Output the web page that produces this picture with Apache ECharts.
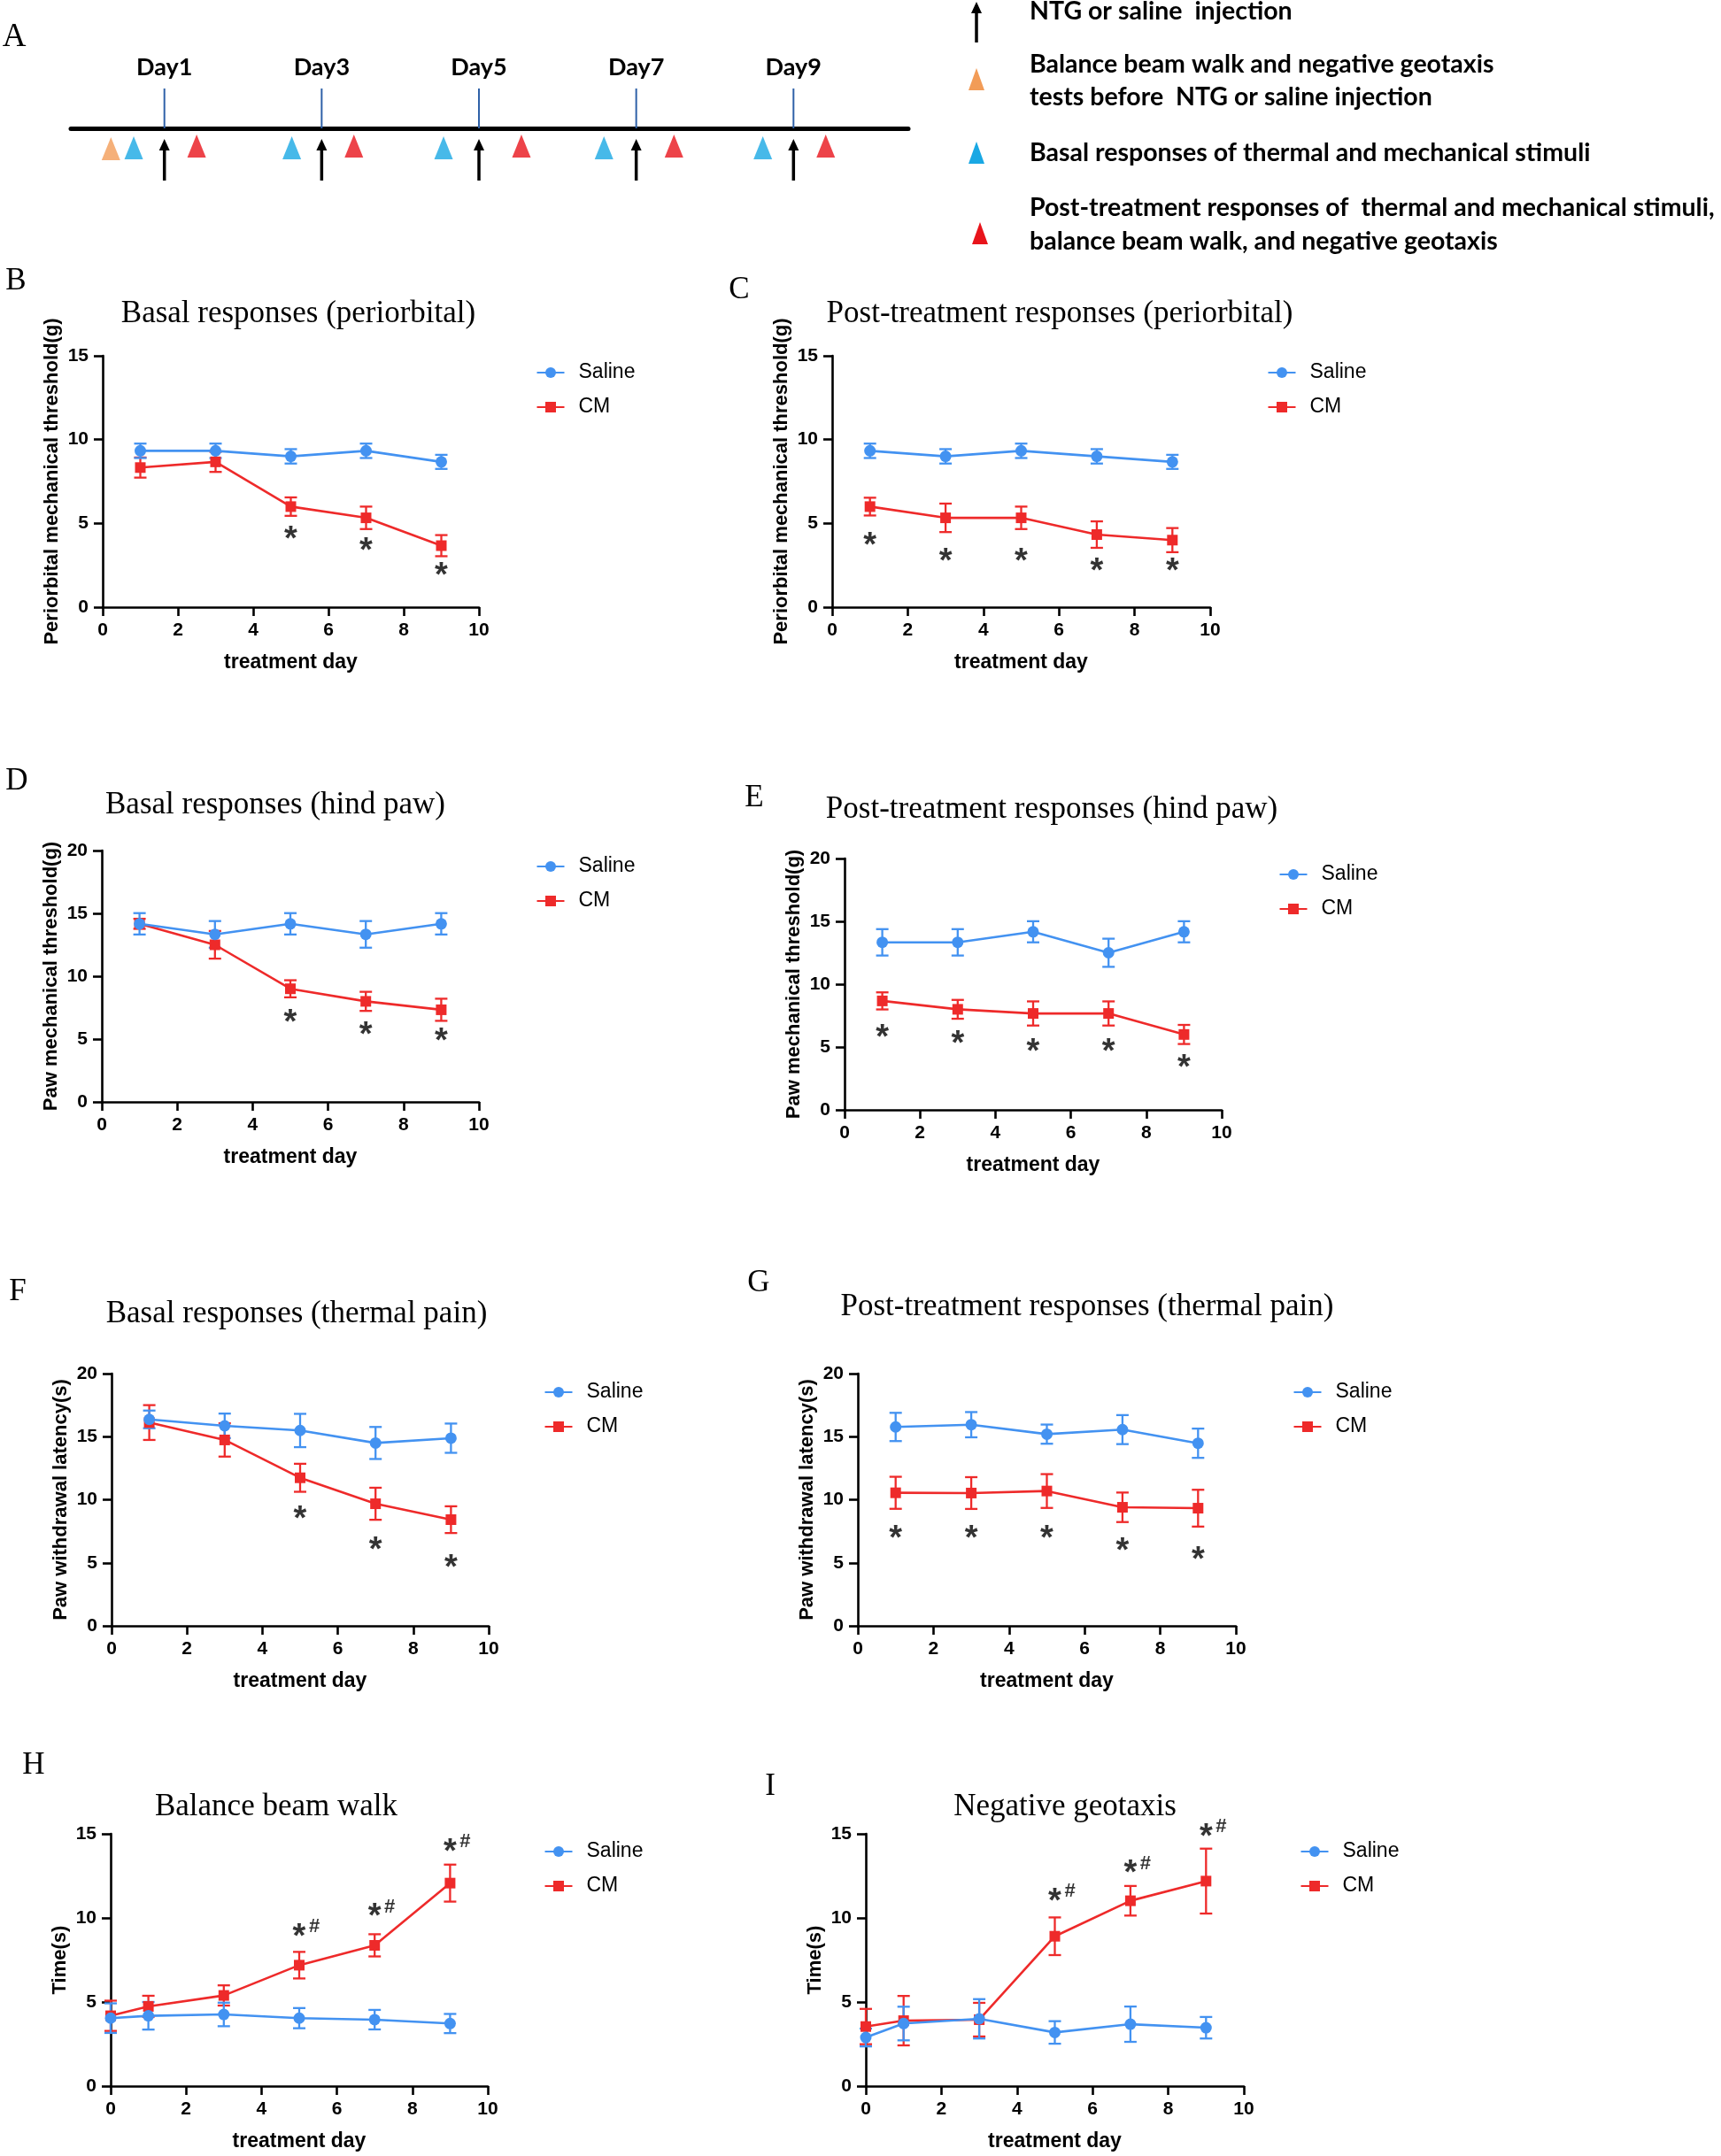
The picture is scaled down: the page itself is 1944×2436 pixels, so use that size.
<!DOCTYPE html>
<html><head><meta charset="utf-8">
<script src="https://cdn.jsdelivr.net/npm/echarts@6/dist/echarts.min.js"></script>
<style>html,body{margin:0;padding:0;background:#fff}#c{width:1944px;height:2436px}</style>
</head><body><div id="c"></div>
<script>
// ---------------- data ----------------
// Panel A (timeline schematic)
const injectionDays = [1, 3, 5, 7, 9];
const dayLabels = ['Day1', 'Day3', 'Day5', 'Day7', 'Day9'];
const basalTestDays = [0.61, 2.62, 4.55, 6.59, 8.61];
const postTestDays = [1.41, 3.41, 5.54, 7.48, 9.41];
const behaviorPreTestDays = [0.32];
const legendTextsA = [
  'NTG or saline  injection',
  'Balance beam walk and negative geotaxis',
  'tests before  NTG or saline injection',
  'Basal responses of thermal and mechanical stimuli',
  'Post-treatment responses of  thermal and mechanical stimuli,',
  'balance beam walk, and negative geotaxis'
];

const days5 = [1, 3, 5, 7, 9];
const days6 = [0, 1, 3, 5, 7, 9];

// B
const salineB = [9.33, 9.33, 9.0, 9.33, 8.67];
const salineErrB = [0.43, 0.43, 0.43, 0.43, 0.42];
const cmB = [8.33, 8.67, 6.0, 5.33, 3.67];
const cmErrB = [0.6, 0.6, 0.55, 0.67, 0.63];
const sigB = [[5, 4.46], [7, 3.80], [9, 2.28]];
// C
const salineC = [9.33, 9.0, 9.33, 9.0, 8.67];
const salineErrC = [0.43, 0.43, 0.43, 0.43, 0.42];
const cmC = [6.0, 5.33, 5.33, 4.33, 4.0];
const cmErrC = [0.53, 0.85, 0.67, 0.79, 0.72];
const sigC = [[1, 4.11], [3, 3.15], [5, 3.15], [7, 2.54], [9, 2.54]];
// D
const salineD = [14.17, 13.33, 14.17, 13.33, 14.17];
const salineErrD = [0.85, 1.06, 0.85, 1.06, 0.85];
const cmD = [14.17, 12.5, 9.0, 8.0, 7.33];
const cmErrD = [0.4, 1.1, 0.68, 0.76, 0.88];
const sigD = [[5, 6.85], [7, 5.89], [9, 5.38]];
// E
const salineE = [13.33, 13.33, 14.17, 12.5, 14.17];
const salineErrE = [1.05, 1.05, 0.84, 1.12, 0.84];
const cmE = [8.67, 8.0, 7.67, 7.67, 6.0];
const cmErrE = [0.68, 0.75, 0.96, 0.96, 0.76];
const sigE = [[1, 6.32], [3, 5.78], [5, 5.19], [7, 5.19], [9, 3.9]];
// F
const salineF = [16.37, 15.86, 15.49, 14.50, 14.88];
const salineErrF = [0.7, 0.97, 1.32, 1.27, 1.16];
const cmF = [16.12, 14.74, 11.74, 9.68, 8.42];
const cmErrF = [1.38, 1.32, 1.11, 1.27, 1.06];
const sigF = [[5, 9.05], [7, 6.55], [9, 5.15]];
// G
const salineG = [15.77, 15.95, 15.20, 15.56, 14.48];
const salineErrG = [1.12, 1.0, 0.76, 1.15, 1.16];
const cmG = [10.55, 10.53, 10.69, 9.40, 9.33];
const cmErrG = [1.27, 1.26, 1.34, 1.17, 1.46];
const sigG = [[1, 7.49], [3, 7.49], [5, 7.49], [7, 6.48], [9, 5.78]];
// H
const salineH = [4.04, 4.18, 4.26, 4.04, 3.95, 3.72];
const salineErrH = [0.88, 0.82, 0.7, 0.6, 0.58, 0.57];
const cmH = [4.18, 4.74, 5.39, 7.19, 8.37, 12.07];
const cmErrH = [0.9, 0.63, 0.6, 0.79, 0.66, 1.1];
const sigH = [[5, 9.3], [7, 10.5], [9, 14.35]];
// I
const salineI = [2.89, 3.72, 4.0, 3.19, 3.68, 3.47];
const salineErrI = [0.53, 1.0, 1.17, 0.67, 1.05, 0.64];
const cmI = [3.54, 3.89, 3.95, 8.91, 11.02, 12.19];
const cmErrI = [1.05, 1.47, 1.0, 1.12, 0.88, 1.93];
const sigI = [[5, 11.4], [7, 13.07], [9, 15.26]];

const panels = [
  {key:'B', title:'Basal responses (periorbital)', yName:'Periorbital mechanical threshold(g)', yMax:15, days:days5, saline:salineB, salineErr:salineErrB, cm:cmB, cmErr:cmErrB, sig:sigB, hash:false},
  {key:'C', title:'Post-treatment responses (periorbital)', yName:'Periorbital mechanical threshold(g)', yMax:15, days:days5, saline:salineC, salineErr:salineErrC, cm:cmC, cmErr:cmErrC, sig:sigC, hash:false},
  {key:'D', title:'Basal responses (hind paw)', yName:'Paw mechanical threshold(g)', yMax:20, days:days5, saline:salineD, salineErr:salineErrD, cm:cmD, cmErr:cmErrD, sig:sigD, hash:false},
  {key:'E', title:'Post-treatment responses (hind paw)', yName:'Paw mechanical threshold(g)', yMax:20, days:days5, saline:salineE, salineErr:salineErrE, cm:cmE, cmErr:cmErrE, sig:sigE, hash:false},
  {key:'F', title:'Basal responses (thermal pain)', yName:'Paw withdrawal latency(s)', yMax:20, days:days5, saline:salineF, salineErr:salineErrF, cm:cmF, cmErr:cmErrF, sig:sigF, hash:false},
  {key:'G', title:'Post-treatment responses (thermal pain)', yName:'Paw withdrawal latency(s)', yMax:20, days:days5, saline:salineG, salineErr:salineErrG, cm:cmG, cmErr:cmErrG, sig:sigG, hash:false},
  {key:'H', title:'Balance beam walk', yName:'Time(s)', yMax:15, days:days6, saline:salineH, salineErr:salineErrH, cm:cmH, cmErr:cmErrH, sig:sigH, hash:true},
  {key:'I', title:'Negative geotaxis', yName:'Time(s)', yMax:15, days:days6, saline:salineI, salineErr:salineErrI, cm:cmI, cmErr:cmErrI, sig:sigI, hash:true}
];

// ---------------- layout & style ----------------
const layout = {
  B:{grid:[116,402,425,284], legend:[621,421], title:[337,355], letter:[18,318]},
  C:{grid:[940,402,427,284], legend:[1447,421], title:[1197,355], letter:[835,328]},
  D:{grid:[115,961,426,284], legend:[621,979], title:[311,910], letter:[19,883]},
  E:{grid:[954,970,426,284], legend:[1460,988], title:[1188,915], letter:[852,902]},
  F:{grid:[126,1552,426,285], legend:[630,1573], title:[335,1485], letter:[20,1460]},
  G:{grid:[969,1552,427,285], legend:[1476,1573], title:[1228,1477], letter:[857,1450]},
  H:{grid:[125,2072,426,285], legend:[630,2092], title:[312,2042], letter:[38,1995]},
  I:{grid:[978,2072,427,285], legend:[1484,2092], title:[1203,2042], letter:[870,2019]}
};
const BLUE = '#4392f1';
const RED = '#ee2a2a';
const SANS = '"Liberation Sans", Arial, sans-serif';
const SERIF = '"Liberation Serif", "Times New Roman", serif';
const CAL = 'Lato, "Open Sans", sans-serif';

const grids = [], xAxes = [], yAxes = [], series = [], legends = [], graphics = [];

// ---- Panel A timeline (grid 0) ----
grids.push({left:80, top:70, width:946, height:140, outerBoundsMode:'none'});
xAxes.push({gridIndex:0, type:'value', min:-0.19, max:10.46,
  axisLine:{show:true, onZero:true, lineStyle:{color:'#000', width:5}},
  axisTick:{show:false}, axisLabel:{show:false}, splitLine:{show:false}});
yAxes.push({gridIndex:0, type:'value', min:-65, max:75,
  axisLine:{show:false}, axisTick:{show:false}, axisLabel:{show:false}, splitLine:{show:false}});

series.push({type:'custom', name:'dayMarks', xAxisIndex:0, yAxisIndex:0, silent:true, clip:false,
  data: injectionDays.map((d, i) => [d, i]),
  renderItem: (params, api) => {
    const d = api.value(0), i = api.value(1);
    const b = api.coord([d, 0]), t = api.coord([d, 45]), l = api.coord([d, 69]);
    return {type:'group', children:[
      {type:'line', shape:{x1:b[0], y1:b[1], x2:t[0], y2:t[1]}, style:{stroke:'#2f61a8', lineWidth:2}},
      {type:'text', x:l[0], y:l[1], style:{text:dayLabels[i], font:'bold 27px ' + CAL, fill:'#000', align:'center', verticalAlign:'middle'}}
    ]};
  }});
series.push({type:'custom', name:'injection', xAxisIndex:0, yAxisIndex:0, silent:true, clip:false,
  data: injectionDays.map(d => [d, 0]),
  renderItem: (params, api) => {
    const d = api.value(0);
    const b = api.coord([d, -59]), t = api.coord([d, -12]);
    return {type:'group', children:[
      {type:'line', shape:{x1:b[0], y1:b[1], x2:t[0], y2:t[1] + 10}, style:{stroke:'#000', lineWidth:3.5}},
      {type:'polygon', shape:{points:[[t[0], t[1]], [t[0] - 6, t[1] + 13], [t[0] + 6, t[1] + 13]]}, style:{fill:'#000'}}
    ]};
  }});
const triStyle = (color) => ({symbol:'triangle', symbolSize:[21, 26], itemStyle:{color:color}});
series.push(Object.assign({type:'scatter', name:'pre', xAxisIndex:0, yAxisIndex:0, silent:true, clip:false,
  data: behaviorPreTestDays.map(d => [d, -23])}, triStyle('#f29c57')));
series.push(Object.assign({type:'scatter', name:'basal', xAxisIndex:0, yAxisIndex:0, silent:true, clip:false,
  data: basalTestDays.map(d => [d, -22])}, triStyle('#19a8e4')));
series.push(Object.assign({type:'scatter', name:'post', xAxisIndex:0, yAxisIndex:0, silent:true, clip:false,
  data: postTestDays.map(d => [d, -20])}, triStyle('#e8141b')));

// Panel A key (legend)
const tri = (cx, cy, color) => ({type:'polygon', shape:{points:[[cx, cy - 13], [cx - 9, cy + 12], [cx + 9, cy + 12]]}, style:{fill:color}});
graphics.push({type:'line', shape:{x1:1103, y1:48, x2:1103, y2:12}, style:{stroke:'#000', lineWidth:3.5}});
graphics.push({type:'polygon', shape:{points:[[1103, 2], [1097, 15], [1109, 15]]}, style:{fill:'#000'}});
graphics.push(tri(1103, 90, '#f29c57'));
graphics.push(tri(1103, 173, '#19a8e4'));
graphics.push(tri(1107, 264, '#e8141b'));
const keyY = [13, 73, 110, 173, 235, 273];
legendTextsA.forEach((t, i) => graphics.push({type:'text', x:1163, y:keyY[i],
  style:{text:t, font:'bold 28.5px ' + CAL, fill:'#000', align:'left', verticalAlign:'middle'}}));
graphics.push({type:'text', x:16, y:42, style:{text:'A', font:'37px ' + SERIF, fill:'#000', align:'center', verticalAlign:'middle'}});

// ---- chart panels ----
function errSeries(gi, xs, ys, es, color, name) {
  return {type:'custom', name:name, xAxisIndex:gi, yAxisIndex:gi, silent:true,
    data: xs.map((x, k) => [x, ys[k] - es[k], ys[k] + es[k]]),
    encode:{x:0, y:[1, 2]},
    renderItem: (params, api) => {
      const x = api.value(0), a = api.coord([x, api.value(1)]), b = api.coord([x, api.value(2)]);
      const st = {stroke:color, lineWidth:2.3, fill:null};
      return {type:'group', children:[
        {type:'line', shape:{x1:a[0], y1:a[1], x2:b[0], y2:b[1]}, style:st},
        {type:'line', shape:{x1:a[0] - 7, y1:a[1], x2:a[0] + 7, y2:a[1]}, style:st},
        {type:'line', shape:{x1:b[0] - 7, y1:b[1], x2:b[0] + 7, y2:b[1]}, style:st}
      ]};
    }};
}
function lineSeries(gi, name, xs, ys, color, symbol, size) {
  return {type:'line', name:name, xAxisIndex:gi, yAxisIndex:gi, silent:true,
    data: xs.map((x, k) => [x, ys[k]]), symbol:symbol, symbolSize:size, showSymbol:true,
    lineStyle:{color:color, width:2.6}, itemStyle:{color:color}};
}
const axisCommon = {
  axisLine:{show:true, onZero:true, lineStyle:{color:'#000', width:2.6}},
  axisTick:{show:true, inside:false, length:10, lineStyle:{color:'#000', width:2.6}},
  splitLine:{show:false}
};
panels.forEach((p, i) => {
  const gi = i + 1, L = layout[p.key];
  grids.push({left:L.grid[0], top:L.grid[1], width:L.grid[2], height:L.grid[3], outerBoundsMode:'none'});
  xAxes.push(Object.assign({gridIndex:gi, type:'value', min:0, max:10, interval:2,
    name:'treatment day', nameLocation:'middle', nameGap:51,
    nameTextStyle:{fontFamily:SANS, fontWeight:'bold', fontSize:23, color:'#000'},
    axisLabel:{show:true, margin:16, fontFamily:SANS, fontWeight:'bold', fontSize:21, color:'#000', showMinLabel:true, showMaxLabel:true}}, axisCommon));
  yAxes.push(Object.assign({gridIndex:gi, type:'value', min:0, max:p.yMax, interval:5,
    name:p.yName, nameLocation:'middle', nameGap:46,
    nameTextStyle:{fontFamily:SANS, fontWeight:'bold', fontSize:22, color:'#000'},
    axisLabel:{show:true, margin:16, fontFamily:SANS, fontWeight:'bold', fontSize:21, color:'#000', showMinLabel:true, showMaxLabel:true}}, axisCommon));
  series.push(errSeries(gi, p.days, p.cm, p.cmErr, RED, 'CM error'));
  series.push(lineSeries(gi, 'CM', p.days, p.cm, RED, 'rect', 12));
  series.push(errSeries(gi, p.days, p.saline, p.salineErr, BLUE, 'Saline error'));
  series.push(lineSeries(gi, 'Saline', p.days, p.saline, BLUE, 'circle', 13));
  series.push({type:'scatter', name:'sig', xAxisIndex:gi, yAxisIndex:gi, silent:true, clip:false,
    data:p.sig, symbolSize:1, itemStyle:{color:'rgba(0,0,0,0)'}, z:5,
    label:{show:true, position:'inside', formatter:'*', offset:[0, 9], fontFamily:SANS, fontWeight:'bold', fontSize:38, color:'#000'}});
  if (p.hash) {
    series.push({type:'scatter', name:'sig2', xAxisIndex:gi, yAxisIndex:gi, silent:true, clip:false,
      data:p.sig, symbolSize:1, itemStyle:{color:'rgba(0,0,0,0)'}, z:5,
      label:{show:true, position:'inside', formatter:'#', offset:[17, -3], fontFamily:SANS, fontWeight:'bold', fontSize:22, color:'#000'}});
  }
  legends.push({data:['Saline', 'CM'], orient:'vertical', left:L.legend[0] - 15.5, top:L.legend[1] - 11.5,
    padding:0, itemWidth:31, itemHeight:15, itemGap:16, selectedMode:false,
    textStyle:{fontFamily:SANS, fontSize:23, color:'#000', padding:[0, 0, 0, 11]}});
  graphics.push({type:'text', x:L.title[0], y:L.title[1], style:{text:p.title, font:'35px ' + SERIF, fill:'#000', align:'center', verticalAlign:'middle'}});
  graphics.push({type:'text', x:L.letter[0], y:L.letter[1], style:{text:p.key, font:'35px ' + SERIF, fill:'#000', align:'center', verticalAlign:'middle'}});
});

const chart = echarts.init(document.getElementById('c'), null, {renderer:'canvas'});
chart.setOption({
  backgroundColor:'#fff', animation:false,
  grid:grids, xAxis:xAxes, yAxis:yAxes, series:series, legend:legends,
  graphic:{elements:graphics}
});
</script></body></html>
